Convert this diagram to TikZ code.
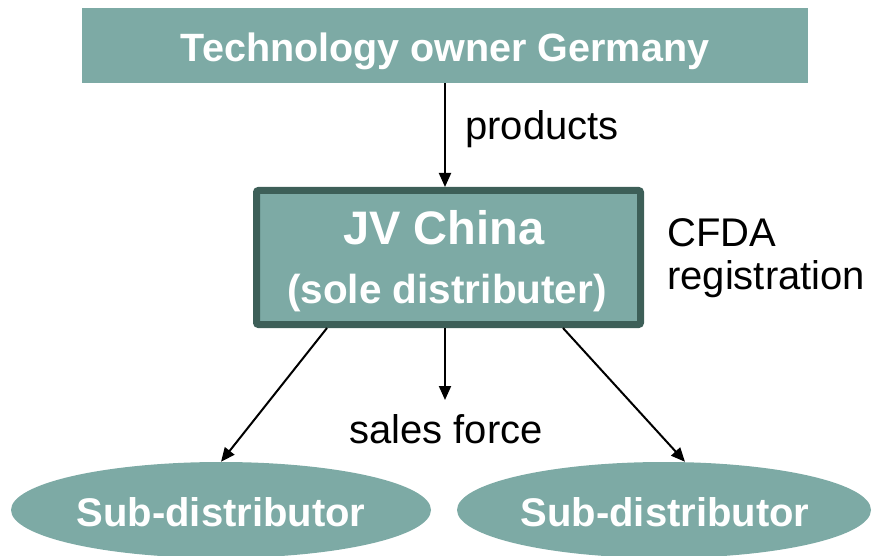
\documentclass[tikz,border=0pt]{standalone}
\usepackage{fontspec}
\setmainfont{Liberation Sans}
\usetikzlibrary{arrows.meta,shapes.geometric}
\definecolor{tealfill}{RGB}{125,170,165}
\definecolor{tealdark}{RGB}{61,95,88}
\begin{document}
\begin{tikzpicture}[x=1pt,y=-1pt,
  lbl/.style={font=\fontsize{40}{48}\selectfont, inner sep=0pt, anchor=base},
  wlbl/.style={lbl, text=white, font=\fontsize{40}{48}\selectfont\bfseries},
  arr/.style={line width=2pt, -{Triangle[length=14pt,width=12pt]}},
  boxfill/.style={fill=tealfill, inner sep=0pt}]
\useasboundingbox (0,0) rectangle (873,556);
% shapes
\node[boxfill, minimum width=726pt, minimum height=75pt] (title) at (445,45.5) {};
\node[boxfill, draw=tealdark, line width=7pt, rounded corners=2pt,
      minimum width=384pt, minimum height=134pt] (jv) at (448.5,257.5) {};
\node[boxfill, ellipse, minimum width=420pt, minimum height=96pt] (sub1) at (221,510) {};
\node[boxfill, ellipse, minimum width=414pt, minimum height=96pt] (sub2) at (664,510) {};
% texts
\node[wlbl, font=\fontsize{39.5}{48}\selectfont\bfseries] (titletxt) at (445,62) {Technology owner Germany};
\node[wlbl, font=\fontsize{47}{56}\selectfont\bfseries] (jvtxt) at (444,244) {JV China};
\node[wlbl, font=\fontsize{40.5}{48}\selectfont\bfseries] (jvsub) at (447,303) {(sole distributer)};
\node[wlbl] (sub1txt) at (221,526) {Sub-distributor};
\node[wlbl] (sub2txt) at (665,526) {Sub-distributor};
\node[lbl, anchor=base west] (prod) at (465,140) {products};
\node[lbl, anchor=base west] (cfda) at (667,247) {CFDA};
\node[lbl, anchor=base west] (reg) at (667,290) {registration};
\node[lbl] (sales) at (446,443) {sales force};
% helper coordinates
\coordinate (lx) at (327,0);
\coordinate (mx) at (445,0);
\coordinate (rxs) at (563,0);
\coordinate (rxe) at (685,0);
\coordinate (sfend) at (445,400);
% connectors
\draw[arr] (title.south) -- (title.south |- jv.north);
\draw[arr] (jv.south -| mx) -- (sfend);
\draw[arr] (jv.south -| lx) -- (sub1.north);
\draw[arr] (jv.south -| rxs) -- (sub2.north -| rxe);
\end{tikzpicture}
\end{document}
